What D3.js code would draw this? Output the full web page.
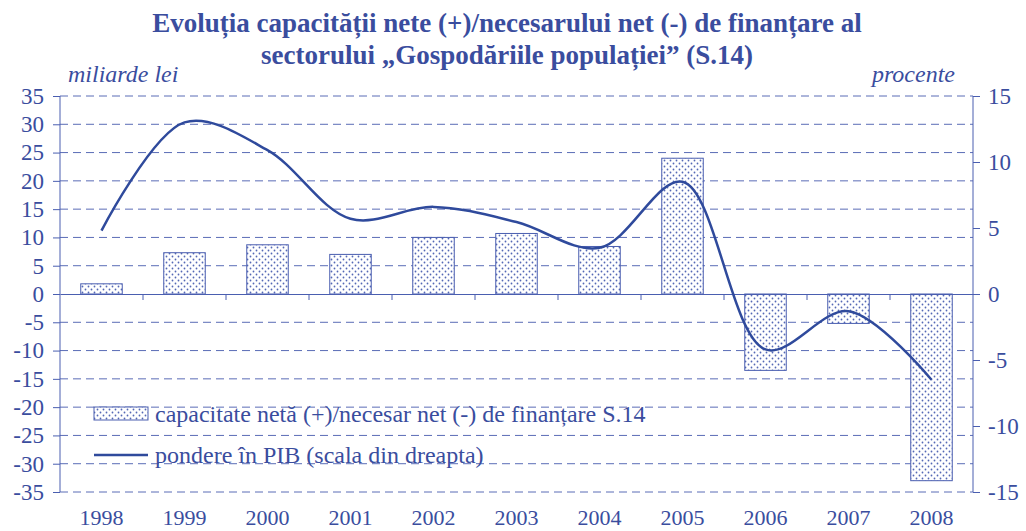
<!DOCTYPE html>
<html>
<head>
<meta charset="utf-8">
<script src="https://cdn.jsdelivr.net/npm/d3@7"></script>
<style>
  body { margin: 0; background: #fff; }
  svg text { font-family: "Liberation Serif", "DejaVu Serif", serif; fill: #3a4d9e; }
</style>
</head>
<body>
<svg class="chart"></svg>
<script>
var years = ["1998", "1999", "2000", "2001", "2002", "2003", "2004", "2005", "2006", "2007", "2008"];
var capacitate = [1.8, 7.3, 8.7, 7.0, 10.0, 10.7, 8.4, 24.0, -13.5, -5.2, -33.0];
var pondere = [4.8, 13.0, 10.9, 5.7, 6.6, 5.45, 3.5, 8.5, -4.2, -1.3, -6.5];
var leftTicks = d3.range(-35, 36, 5);
var rightTicks = d3.range(-15, 16, 5);
var titleLines = ["Evoluția capacității nete (+)/necesarului net (-) de finanțare al",
                  "sectorului „Gospodăriile populației” (S.14)"];
var legendLabels = ["capacitate netă (+)/necesar net (-) de finanțare S.14",
                    "pondere în PIB (scala din dreapta)"];

var blue = "#3a4d9e", lineBlue = "#2f4a9c";
var serif = "'Liberation Serif', 'DejaVu Serif', serif";

var margin = {top: 96, right: 53, bottom: 39, left: 60},
    width = 1026 - margin.left - margin.right,
    height = 531 - margin.top - margin.bottom;

var svg = d3.select("svg.chart")
    .attr("width", 1026)
    .attr("height", 531);

var defs = svg.append("defs");
var pat = defs.append("pattern")
    .attr("id", "dots")
    .attr("patternUnits", "userSpaceOnUse")
    .attr("width", 6)
    .attr("height", 6);
pat.append("rect").attr("width", 6).attr("height", 6).attr("fill", "#fff");
pat.append("circle").attr("cx", 1.5).attr("cy", 1.5).attr("r", 0.9).attr("fill", "#5468b5");
pat.append("circle").attr("cx", 4.5).attr("cy", 4.5).attr("r", 0.9).attr("fill", "#5468b5");

var g = svg.append("g")
    .attr("transform", "translate(" + margin.left + "," + margin.top + ")");

var x = d3.scaleBand()
    .domain(years)
    .range([0, width])
    .paddingInner(0.5)
    .paddingOuter(0.25);

var xBand = d3.scaleBand()
    .domain(years)
    .range([0, width]);

var y = d3.scaleLinear()
    .domain([-35, 35])
    .range([height, 0]);

var y2 = d3.scaleLinear()
    .domain([-15, 15])
    .range([height, 0]);

// title
svg.selectAll("text.title")
  .data(titleLines)
  .enter().append("text")
    .attr("class", "title")
    .attr("x", 507)
    .attr("y", function(d, i) { return 32 + i * 32; })
    .attr("text-anchor", "middle")
    .style("font-size", "27px")
    .style("font-weight", "bold")
    .text(function(d) { return d; });

svg.append("text")
    .attr("x", 68).attr("y", 82)
    .style("font-size", "24px")
    .style("font-style", "italic")
    .text("miliarde lei");

svg.append("text")
    .attr("x", 955).attr("y", 82)
    .attr("text-anchor", "end")
    .style("font-size", "24px")
    .style("font-style", "italic")
    .text("procente");

// grid lines
g.append("g")
    .attr("class", "grid")
  .selectAll("line")
  .data(leftTicks.filter(function(d) { return d !== 0; }))
  .enter().append("line")
    .attr("x1", 0)
    .attr("x2", width)
    .attr("y1", function(d) { return y(d); })
    .attr("y2", function(d) { return y(d); })
    .attr("stroke", "#5a6cb6")
    .attr("stroke-width", 1)
    .attr("stroke-dasharray", "8,5");

// bars
g.selectAll("rect.bar")
  .data(capacitate)
  .enter().append("rect")
    .attr("class", "bar")
    .attr("x", function(d, i) { return x(years[i]); })
    .attr("width", x.bandwidth())
    .attr("y", function(d) { return y(Math.max(0, d)); })
    .attr("height", function(d) { return Math.abs(y(d) - y(0)); })
    .attr("fill", "url(#dots)")
    .attr("stroke", "#4a5eb0")
    .attr("stroke-width", 1);

// zero line with category ticks
var xAxis = d3.axisBottom(xBand).tickSize(0).tickFormat("");
g.append("g")
    .attr("transform", "translate(0," + y(0) + ")")
    .call(xAxis)
    .call(function(s) { s.select(".domain").attr("stroke", "#4a5eb0"); });

g.append("g")
    .attr("class", "band-ticks")
  .selectAll("line")
  .data(years.slice(1))
  .enter().append("line")
    .attr("x1", function(d) { return xBand(d); })
    .attr("x2", function(d) { return xBand(d); })
    .attr("y1", y(0))
    .attr("y2", y(0) + 6)
    .attr("stroke", "#4a5eb0");

// year labels
g.selectAll("text.year")
  .data(years)
  .enter().append("text")
    .attr("class", "year")
    .attr("x", function(d) { return xBand(d) + xBand.bandwidth() / 2; })
    .attr("y", height + 33)
    .attr("text-anchor", "middle")
    .style("font-size", "22px")
    .text(function(d) { return d; });

// line
var line = d3.line()
    .x(function(d, i) { return xBand(years[i]) + xBand.bandwidth() / 2; })
    .y(function(d) { return y2(d); })
    .curve(d3.curveCatmullRom.alpha(0.5));

g.append("path")
    .datum(pondere)
    .attr("fill", "none")
    .attr("stroke", lineBlue)
    .attr("stroke-width", 2.5)
    .attr("d", line);

function styleAxis(s) {
  s.attr("font-family", null).attr("font-size", null);
  s.selectAll("path, line").attr("stroke", "#4a5eb0");
  s.select(".domain").attr("d", "M0," + height + "V0");
  s.selectAll("text").style("font-size", "23px").attr("fill", blue)
    .style("font-family", serif);
}

var plainNum = function(d) { return String(d); };

// left axis
var yAxis = d3.axisLeft(y).tickValues(leftTicks).tickFormat(plainNum).tickSize(7).tickPadding(9);
g.append("g")
    .attr("class", "y-axis")
    .call(yAxis)
    .call(styleAxis);

// right axis
var y2Axis = d3.axisRight(y2).tickValues(rightTicks).tickFormat(plainNum).tickSize(7).tickPadding(8);
g.append("g")
    .attr("class", "y2-axis")
    .attr("transform", "translate(" + width + ",0)")
    .call(y2Axis)
    .call(styleAxis);

// legend
var legend = svg.append("g").attr("class", "legend");
legend.append("rect")
    .attr("x", 94).attr("y", 407)
    .attr("width", 54).attr("height", 13)
    .attr("fill", "url(#dots)")
    .attr("stroke", "#4a5eb0");
legend.append("line")
    .attr("x1", 94).attr("x2", 148)
    .attr("y1", 455).attr("y2", 455)
    .attr("stroke", lineBlue)
    .attr("stroke-width", 2.5);
legend.selectAll("text")
  .data(legendLabels)
  .enter().append("text")
    .attr("x", 155)
    .attr("y", function(d, i) { return 422 + i * 41; })
    .style("font-size", "24px")
    .text(function(d) { return d; });
</script>
</body>
</html>
